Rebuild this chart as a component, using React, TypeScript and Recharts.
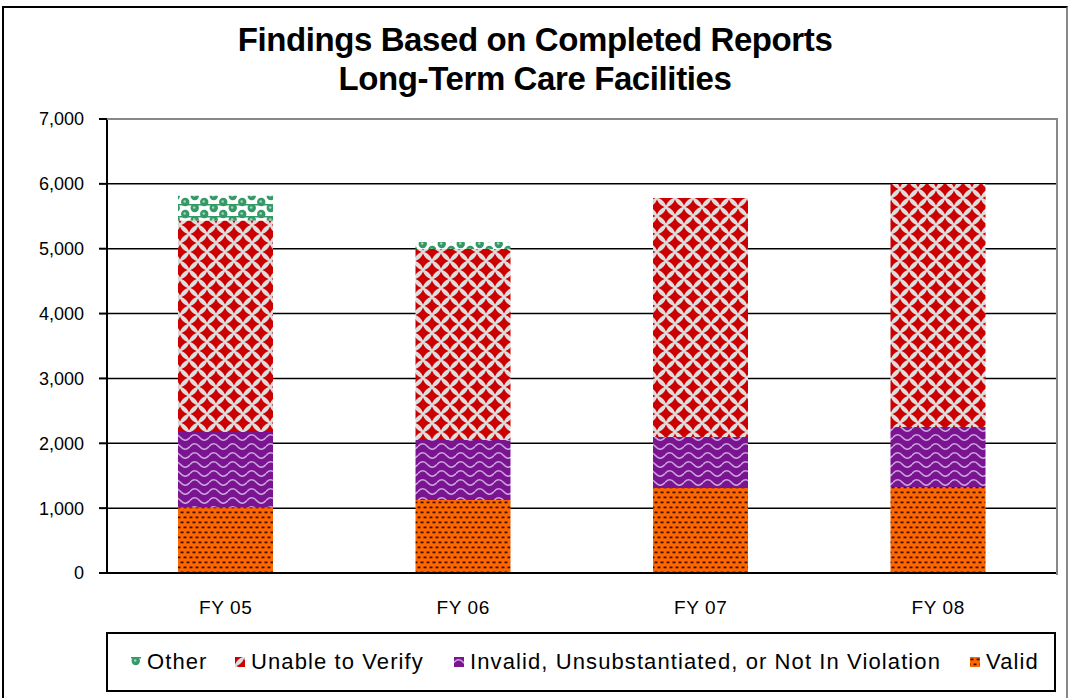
import { Bar, BarChart, CartesianGrid, XAxis, YAxis } from "recharts";

const categories = ["FY 05", "FY 06", "FY 07", "FY 08"];
const valid = [1015, 1125, 1310, 1325];
const invalid = [1160, 925, 787, 925];
const unableToVerify = [3260, 2945, 3685, 3748];
const other = [380, 108, 0, 0];
const yTicks = [0, 1000, 2000, 3000, 4000, 5000, 6000, 7000];

const FONT = "'Liberation Sans', Arial, sans-serif";

const data = categories.map((name, i) => ({
  name,
  valid: valid[i],
  invalid: invalid[i],
  unable: unableToVerify[i],
  other: other[i],
}));

// legend order is top-of-stack first, like the original
const legendItems = [
  { label: "Other", fill: "url(#patOther)", left: 131 },
  { label: "Unable to Verify", fill: "url(#patUnable)", left: 235 },
  { label: "Invalid, Unsubstantiated, or Not In Violation", fill: "url(#patInvalid)", left: 454 },
  { label: "Valid", fill: "url(#patValid)", left: 970 },
];

function diamond(cx: number, cy: number, r: number, k: number) {
  return `M${cx} ${cy - r} Q${cx + k} ${cy - k} ${cx + r} ${cy} Q${cx + k} ${cy + k} ${cx} ${cy + r} Q${cx - k} ${cy + k} ${cx - r} ${cy} Q${cx - k} ${cy - k} ${cx} ${cy - r}Z`;
}

function PatternDefs() {
  // patterns live in their own svg so every chart svg on the page can use them
  return (
    <svg width={0} height={0} style={{ position: "absolute" }}>
      <defs>
        <pattern id="patValid" width={6} height={10} patternUnits="userSpaceOnUse">
          <rect width={6} height={10} fill="#ff6600" />
          <rect x={0.5} y={1.5} width={3} height={1.8} fill="#3b1400" />
          <rect x={3.5} y={6.5} width={3} height={1.8} fill="#3b1400" />
          <rect x={-2.5} y={6.5} width={3} height={1.8} fill="#3b1400" />
        </pattern>
        <pattern id="patInvalid" width={19} height={9} patternUnits="userSpaceOnUse">
          <rect width={19} height={9} fill="#7b1491" />
          <path
            d="M0 5.5 Q4.75 0 9.5 5.5 T19 5.5"
            stroke="#c9a3dc"
            strokeWidth={1.6}
            fill="none"
          />
        </pattern>
        <pattern id="patUnable" width={18} height={18} patternUnits="userSpaceOnUse">
          <rect width={18} height={18} fill="#dddddd" />
          {[
            [9, 9],
            [0, 0],
            [18, 0],
            [0, 18],
            [18, 18],
          ].map(([cx, cy], i) => (
            <path key={i} d={diamond(cx, cy, 7.6, 2.1)} fill="#cc0000" />
          ))}
        </pattern>
        <pattern id="patOther" width={19} height={12} patternUnits="userSpaceOnUse">
          <rect width={19} height={12} fill="#ffffff" />
          <rect y={0} width={19} height={1.5} fill="#339966" />
          <circle cx={4.75} cy={4} r={4.2} fill="#339966" />
          <circle cx={14.25} cy={10} r={4.2} fill="#339966" />
          <circle cx={-4.75} cy={10} r={4.2} fill="#339966" />
          <circle cx={23.75} cy={10} r={4.2} fill="#339966" />
          <circle cx={14.25} cy={-2} r={4.2} fill="#339966" />
          <circle cx={4.2} cy={3.5} r={1.3} fill="#9fd6b8" />
          <circle cx={13.7} cy={9.5} r={1.3} fill="#9fd6b8" />
        </pattern>
      </defs>
    </svg>
  );
}

export default function App() {
  return (
    <div
      style={{
        position: "absolute",
        left: 0,
        top: 0,
        width: 1070,
        height: 698,
        background: "#fff",
        overflow: "hidden",
        fontFamily: FONT,
      }}
    >
      <PatternDefs />

      {/* outer chart frame */}
      <div
        style={{
          position: "absolute",
          left: 2,
          top: 6,
          width: 1062,
          height: 720,
          borderLeft: "2px solid #000",
          borderTop: "2px solid #000",
          borderRight: "2px solid #888",
        }}
      />

      <div
        style={{
          position: "absolute",
          top: 20,
          left: 0,
          width: 1070,
          textAlign: "center",
          fontWeight: "bold",
          fontSize: 33,
          lineHeight: "39px",
          letterSpacing: -0.4,
          color: "#000",
        }}
      >
        Findings Based on Completed Reports
        <br />
        Long-Term Care Facilities
      </div>

      <div style={{ position: "absolute", left: 0, top: 0 }}>
        <BarChart
          width={1070}
          height={698}
          data={data}
          margin={{ top: 119, right: 13, bottom: 90, left: 0 }}
          barSize={95}
        >
          <CartesianGrid vertical={false} stroke="#000" strokeWidth={1.5} />
          <XAxis
            dataKey="name"
            height={35}
            axisLine={{ stroke: "#000", strokeWidth: 2 }}
            tickLine={false}
            tickMargin={22}
            tick={{ fill: "#000", fontSize: 19, fontFamily: FONT, letterSpacing: 0.6 }}
          />
          <YAxis
            width={107}
            domain={[0, 7000]}
            ticks={yTicks}
            interval={0}
            axisLine={{ stroke: "#000", strokeWidth: 2 }}
            tickLine={{ stroke: "#000", strokeWidth: 2 }}
            tickSize={8}
            tickMargin={15}
            tickFormatter={(v: number) => v.toLocaleString("en-US")}
            tick={{ fill: "#000", fontSize: 18, fontFamily: FONT }}
          />
          <Bar dataKey="valid" stackId="a" fill="url(#patValid)" isAnimationActive={false} />
          <Bar dataKey="invalid" stackId="a" fill="url(#patInvalid)" isAnimationActive={false} />
          <Bar dataKey="unable" stackId="a" fill="url(#patUnable)" isAnimationActive={false} />
          <Bar dataKey="other" stackId="a" fill="url(#patOther)" isAnimationActive={false} />
        </BarChart>
      </div>

      {/* plot area border: grey top and right edges */}
      <div
        style={{
          position: "absolute",
          left: 107,
          top: 118,
          width: 949,
          height: 455,
          borderTop: "2px solid #888",
          borderRight: "2px solid #888",
          pointerEvents: "none",
        }}
      />

      {/* legend box */}
      <div
        style={{
          position: "absolute",
          left: 106,
          top: 632,
          width: 946,
          height: 56,
          border: "2px solid #000",
          fontSize: 22,
          letterSpacing: 1.1,
          color: "#000",
        }}
      >
        {legendItems.map((item) => (
          <div
            key={item.label}
            style={{
              position: "absolute",
              left: item.left - 108,
              top: 0,
              height: 56,
              display: "flex",
              alignItems: "center",
              whiteSpace: "nowrap",
            }}
          >
            <svg width={10} height={10} style={{ marginRight: 6 }}>
              <rect x={0} y={0} width={10} height={10} fill={item.fill} />
            </svg>
            <span>{item.label}</span>
          </div>
        ))}
      </div>
    </div>
  );
}
